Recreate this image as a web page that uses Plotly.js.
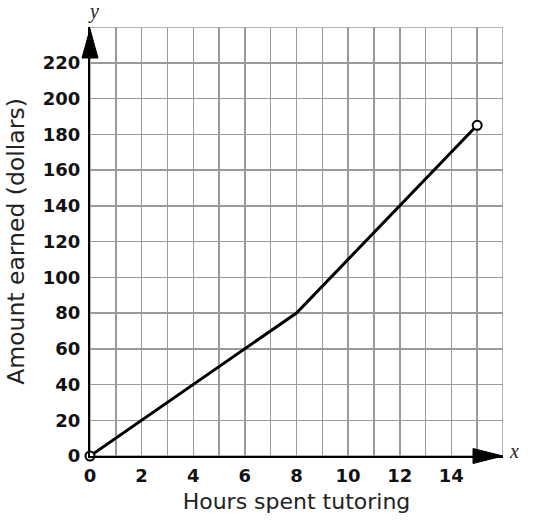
<!DOCTYPE html>
<html>
<head>
<meta charset="utf-8">
<script src="https://cdn.plot.ly/plotly-3.0.1.min.js"></script>
<style>html,body{margin:0;padding:0;background:#fff;}#chart{width:534px;height:528px;}</style>
</head>
<body>
<div id="chart"></div>
<script>
// Data
const hours = [0, 8, 15];
const earned = [0, 80, 185];
const xTickVals = [0, 2, 4, 6, 8, 10, 12, 14];
const xTickText = ["0", "2", "4", "6", "8", "10", "12", "14"];
const yTickVals = [0, 20, 40, 60, 80, 100, 120, 140, 160, 180, 200, 220];
const yTickText = ["0", "20", "40", "60", "80", "100", "120", "140", "160", "180", "200", "220"];
const xTitle = "Hours spent tutoring";
const yTitle = "Amount earned (dollars)";

const gridColor = "#9a9a9a";
const tickFont = {family: "'DejaVu Sans', sans-serif", size: 18, color: "#111", weight: 700};
const titleFamily = "'DejaVu Sans', sans-serif";

const trace = {
  x: hours, y: earned, type: "scatter", mode: "lines",
  line: {color: "#000", width: 3}, hoverinfo: "skip", showlegend: false
};
const endpoints = {
  x: [hours[0], hours[hours.length - 1]],
  y: [earned[0], earned[earned.length - 1]],
  type: "scatter", mode: "markers",
  marker: {symbol: "circle", size: 9, color: "#fff", line: {color: "#000", width: 2}},
  hoverinfo: "skip", showlegend: false, cliponaxis: false
};

const layout = {
  width: 534, height: 528,
  margin: {l: 90, r: 31, t: 27, b: 72},
  paper_bgcolor: "#fff", plot_bgcolor: "#fff",
  showlegend: false,
  xaxis: {
    range: [0, 16], tickvals: xTickVals, ticktext: xTickText,
    showgrid: true, gridcolor: gridColor, gridwidth: 1.5,
    minor: {dtick: 1, tick0: 0, showgrid: true, gridcolor: gridColor, gridwidth: 1.5},
    zeroline: false, showline: true, linecolor: "#000", linewidth: 2,
    ticks: "", ticklabelstandoff: 2, tickfont: tickFont,
    title: {text: xTitle, standoff: 9, font: {family: titleFamily, size: 22, color: "#222"}},
    fixedrange: true
  },
  yaxis: {
    range: [0, 240], tickvals: yTickVals, ticktext: yTickText,
    showgrid: true, gridcolor: gridColor, gridwidth: 1.5,
    zeroline: false, showline: true, linecolor: "#000", linewidth: 2,
    ticks: "", ticklabelstandoff: 4, tickfont: tickFont,
    title: {text: yTitle, standoff: 12, font: {family: titleFamily, size: 23.5, color: "#222"}},
    fixedrange: true
  },
  shapes: [
    {type: "rect", xref: "x", yref: "y", x0: 0, x1: 16, y0: 0, y1: 240,
     line: {color: gridColor, width: 1.5}, layer: "below"},
    {type: "path", xref: "paper", yref: "paper", xsizemode: "pixel", ysizemode: "pixel",
     xanchor: 1, yanchor: 0, path: "M0,0 L-30,7.5 L-30,-7.5 Z",
     fillcolor: "#000", line: {color: "#000", width: 1}, layer: "above"},
    {type: "path", xref: "paper", yref: "paper", xsizemode: "pixel", ysizemode: "pixel",
     xanchor: 0, yanchor: 1, path: "M0,-2 L-8,-31 L8,-31 Z",
     fillcolor: "#000", line: {color: "#000", width: 1}, layer: "above"}
  ],
  annotations: [
    {xref: "paper", yref: "paper", x: 1.026, y: 0.012, text: "<i>x</i>", showarrow: false,
     xanchor: "center", yanchor: "middle", font: {family: "'Liberation Serif', serif", size: 20, color: "#222"}},
    {xref: "paper", yref: "paper", x: 0.008, y: 1.036, text: "<i>y</i>", showarrow: false,
     xanchor: "center", yanchor: "middle", font: {family: "'Liberation Serif', serif", size: 20, color: "#222"}}
  ]
};

Plotly.newPlot("chart", [trace, endpoints], layout, {staticPlot: true, displayModeBar: false});
</script>
</body>
</html>
